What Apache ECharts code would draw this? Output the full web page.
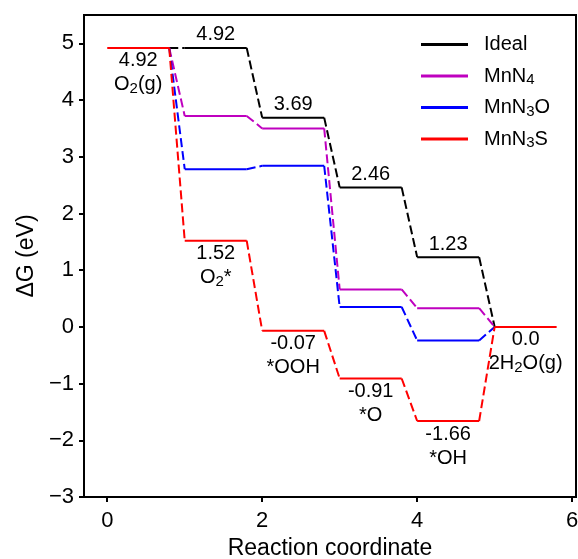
<!DOCTYPE html>
<html>
<head>
<meta charset="utf-8">
<script src="https://cdn.jsdelivr.net/npm/echarts@6/dist/echarts.min.js"></script>
<style>
  html, body { margin: 0; padding: 0; background: #fff; }
  #chart { width: 578px; height: 559px; }
</style>
</head>
<body>
<div id="chart"></div>
<script>
// Free-energy diagram of the four-electron oxygen reduction path
const steps = [0, 1, 2, 3, 4, 5];
const ideal = [4.92, 4.92, 3.69, 2.46, 1.23, 0.0];
const mnN4 = [4.92, 3.72, 3.50, 0.66, 0.33, 0.0];
const mnN3O = [4.92, 2.78, 2.84, 0.35, -0.24, 0.0];
const mnN3S = [4.92, 1.52, -0.07, -0.91, -1.66, 0.0];
const species = ['O{s|2}(g)', 'O{s|2}*', '*OOH', '*O', '*OH', '2H{s|2}O(g)'];
const seriesNames = ['Ideal', 'MnN4', 'MnN3O', 'MnN3S'];
const legendText = ['Ideal', 'MnN{s|4}', 'MnN{s|3}O', 'MnN{s|3}S'];
const xTicks = [0, 2, 4, 6];
const yTicks = [-3, -2, -1, 0, 1, 2, 3, 4, 5];

const FONT = '"Liberation Sans", Arial, Helvetica, sans-serif';
const LEVEL = 0.8;                 // width of each plateau along the reaction coordinate
const colors = ['#000000', '#bf00bf', '#0000ff', '#ff0000'];
const allValues = [ideal, mnN4, mnN3O, mnN3S];

const subStyle = { fontSize: 15, fontFamily: FONT, color: '#000', lineHeight: 24, padding: [8, 0, 0, 0] };

// The initial O2(g) and final 2H2O(g) plateaus are common to every path,
// so they are drawn once, by the topmost (MnN3S) series.
function plateaus(vals, isTop) {
  const d = [];
  vals.forEach((v, i) => {
    if (!isTop && (i === 0 || i === vals.length - 1)) return;
    d.push([steps[i], v], [steps[i] + LEVEL, v], ['-', '-']);
  });
  return d;
}

function links(vals) {
  const d = [];
  for (let i = 0; i < vals.length - 1; i++) {
    d.push([steps[i] + LEVEL, vals[i]], [steps[i + 1], vals[i + 1]], ['-', '-']);
  }
  return d;
}

const fmt = v => (v === 0 ? v.toFixed(1) : v.toFixed(2));

const series = [];
allValues.forEach((vals, k) => {
  const isTop = k === allValues.length - 1;
  series.push({
    name: seriesNames[k], type: 'line', data: plateaus(vals, isTop),
    showSymbol: false, symbol: 'none', connectNulls: false,
    color: colors[k], lineStyle: { color: colors[k], width: 2, type: 'solid' },
    emphasis: { disabled: true }, silent: true
  });
  series.push({
    name: seriesNames[k], type: 'line', data: links(vals),
    showSymbol: false, symbol: 'none', connectNulls: false,
    color: colors[k], lineStyle: { color: colors[k], width: 2, type: [9, 4] },
    emphasis: { disabled: true }, silent: true
  });
});

// Value annotations: ideal steps above, MnN3S steps (with intermediates) below
const labelData = [];
for (let i = 1; i <= 4; i++) {
  labelData.push({
    value: [steps[i] + LEVEL / 2, ideal[i]],
    label: { position: 'top', distance: 1, formatter: fmt(ideal[i]) }
  });
}
mnN3S.forEach((v, i) => {
  labelData.push({
    value: [steps[i] + LEVEL / 2, v],
    label: { position: 'bottom', distance: 1, formatter: fmt(v) + '\n' + species[i] }
  });
});
series.push({
  type: 'scatter', data: labelData, symbolSize: 0, silent: true,
  itemStyle: { color: 'rgba(0,0,0,0)' }, z: 5,
  label: {
    show: true, fontSize: 20, fontFamily: FONT, color: '#000', opacity: 1, lineHeight: 24, align: 'center',
    rich: { s: subStyle }
  }
});

const axisBase = {
  type: 'value',
  splitLine: { show: false },
  axisLine: { show: true, onZero: false, lineStyle: { color: '#000', width: 2 } },
  nameLocation: 'middle',
  nameTextStyle: { fontSize: 23, fontFamily: FONT, color: '#000' }
};

const legendSub = Object.assign({}, subStyle, { lineHeight: 31 });

const chart = echarts.init(document.getElementById('chart'), null, { renderer: 'canvas' });
chart.setOption({
  animation: false,
  backgroundColor: '#fff',
  grid: {
    left: 84, right: 2, top: 15, bottom: 62, containLabel: false, outerBoundsMode: 'none',
    show: true, borderColor: '#000', borderWidth: 2, backgroundColor: 'transparent'
  },
  legend: {
    data: seriesNames.map(n => ({ name: n, icon: 'rect' })),
    orient: 'vertical', left: 416, top: 24, padding: 5,
    itemWidth: 47, itemHeight: 3, itemGap: 0.5,
    formatter: n => legendText[seriesNames.indexOf(n)],
    textStyle: { fontSize: 20, fontFamily: FONT, color: '#000', lineHeight: 31, padding: [0, 0, 0, 11], rich: { s: legendSub } },
    selectedMode: false
  },
  xAxis: Object.assign({}, axisBase, {
    min: -0.3, max: 6.05,
    name: 'Reaction coordinate', nameGap: 40,
    axisTick: { show: true, inside: false, length: 5, lineStyle: { color: '#000', width: 2 }, customValues: xTicks },
    axisLabel: { fontSize: 22, fontFamily: FONT, color: '#000', margin: 13, customValues: xTicks }
  }),
  yAxis: Object.assign({}, axisBase, {
    min: -3, max: 5.5,
    name: '\u0394G (eV)', nameGap: 46,
    axisTick: { show: true, inside: false, length: 5, lineStyle: { color: '#000', width: 2 }, customValues: yTicks },
    axisLabel: { fontSize: 22, fontFamily: FONT, color: '#000', margin: 10, customValues: yTicks,
      formatter: v => String(v).replace('-', '\u2212') }
  }),
  series: series
});
</script>
</body>
</html>
